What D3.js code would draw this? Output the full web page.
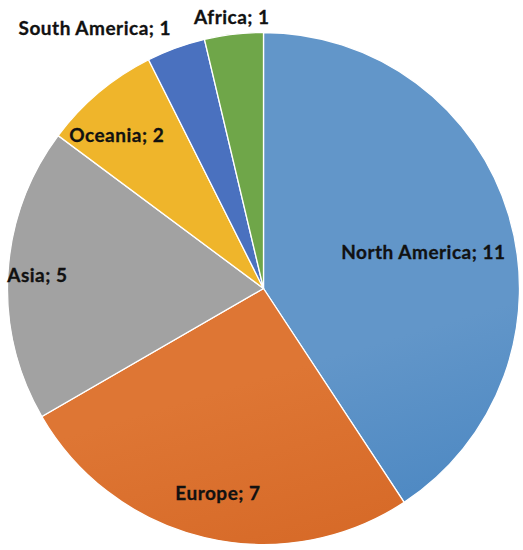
<!DOCTYPE html>
<html><head><meta charset="utf-8">
<script src="https://cdn.jsdelivr.net/npm/d3@7"></script>
<style>html,body{margin:0;padding:0;background:#fff}</style>
</head><body><svg id="c" width="523" height="550"></svg>
<script>
const categories = ["North America","Europe","Asia","Oceania","South America","Africa"];
const values = [11,7,5,2,1,1];
const topColors = ["#6296c9","#de7634","#a2a2a2","#efb52b","#4a71bf","#6fa649"];
const midColors = ["#4281bf","#d36422","#979797","#e9ac14","#3e63b4","#629b3e"];
const bottomColors = ["#2d6aa8","#bd510b","#878787","#dfa000","#355bab","#579035"];
// label placement: [radius factor, angle offset (deg)]
const labelPlace = [[0.64,4],[0.82,-0.8],[0.885,0],[0.83,-3.7],[1.21,-13],[1.065,0]];

const W=523,H=550,cx=263.5,cy=288.5,r=256;
const svg=d3.select("#c");
const defs=svg.append("defs");
categories.forEach((c,i)=>{
  const g=defs.append("linearGradient").attr("id","g"+i).attr("gradientUnits","userSpaceOnUse")
    .attr("x1",cx-r*0.3).attr("y1",cy-r).attr("x2",cx+r*0.3).attr("y2",cy+r);
  g.append("stop").attr("offset","0%").attr("stop-color",topColors[i]);
  g.append("stop").attr("offset","50%").attr("stop-color",midColors[i]);
  g.append("stop").attr("offset","100%").attr("stop-color",bottomColors[i]);
});
const pie=d3.pie().sort(null).value(d=>d)(values);
const arc=d3.arc().innerRadius(0).outerRadius(r);
const gr=svg.append("g").attr("transform",`translate(${cx},${cy})`);
gr.selectAll("path").data(pie).join("path").attr("d",arc)
  .attr("fill",(d,i)=>`url(#g${i})`).attr("stroke","#fff").attr("stroke-width",1.3);
gr.selectAll("text").data(pie).join("text")
  .attr("transform",(d,i)=>{
    const a=(d.startAngle+d.endAngle)/2+labelPlace[i][1]*Math.PI/180;
    const rr=r*labelPlace[i][0];
    return `translate(${rr*Math.sin(a)},${-rr*Math.cos(a)})`;
  })
  .attr("text-anchor","middle").attr("dy","0.35em")
  .style("font-family","Lato, 'Open Sans', sans-serif").style("font-weight","bold").style("font-size","19px")
  .style("letter-spacing","0.5px")
  .attr("fill","#111").attr("stroke","#111").attr("stroke-width",0.3)
  .text((d,i)=>`${categories[i]}; ${values[i]}`);
</script></body></html>
